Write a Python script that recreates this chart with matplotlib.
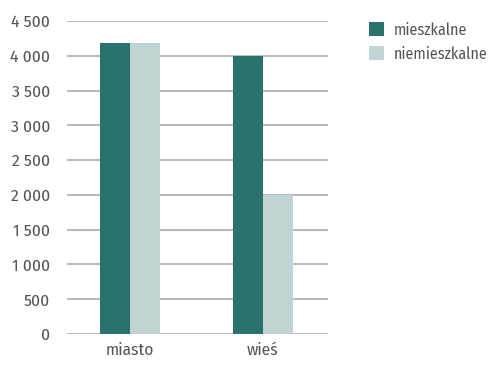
import matplotlib
matplotlib.use("Agg")
import matplotlib.pyplot as plt
import numpy as np
from matplotlib.ticker import FuncFormatter

categories = ["miasto", "wieś"]
mieszkalne = [4180, 4000]
niemieszkalne = [4180, 2000]
series_labels = ["mieszkalne", "niemieszkalne"]
colors = ["#2b716d", "#bfd4d3"]

plt.rcParams['font.family'] = ['Fira Sans Condensed', 'DejaVu Sans']
plt.rcParams['font.weight'] = 'normal'
txt = "#555555"

fig = plt.figure(figsize=(4.91, 3.65), dpi=100)
ax = fig.add_axes([67/491, 31/365, 261/491, 313/365])
x = np.arange(len(categories))
w = 0.226
b1 = ax.bar(x - w/2, mieszkalne, w, color=colors[0], label=series_labels[0], zorder=3)
b2 = ax.bar(x + w/2, niemieszkalne, w, color=colors[1], label=series_labels[1], zorder=3)
ax.set_ylim(0, 4500)
ax.set_xlim(-0.474, 1.489)
ax.set_yticks(np.arange(0, 4501, 500))
ax.yaxis.set_major_formatter(FuncFormatter(lambda v, p: f"{int(v):,}".replace(",", " ")))
ax.set_xticks(x)
ax.set_xticklabels(categories)
ax.grid(axis='y', color="#bbbbbb", linewidth=1.5, zorder=0)
for s in ax.spines.values():
    s.set_visible(False)
ax.tick_params(axis='both', length=0, labelsize=12.5, colors=txt)
ax.tick_params(axis='y', pad=12)
ax.tick_params(axis='x', pad=6)
fig.legend(handles=[b1, b2], loc='upper left', bbox_to_anchor=(369/491, 1 - 22/365),
           frameon=False, fontsize=11.5, labelcolor=txt, handlelength=0.95, handleheight=0.95,
           handletextpad=0.6, labelspacing=0.5, borderpad=0, borderaxespad=0)
fig.savefig("out.png", dpi=100)
